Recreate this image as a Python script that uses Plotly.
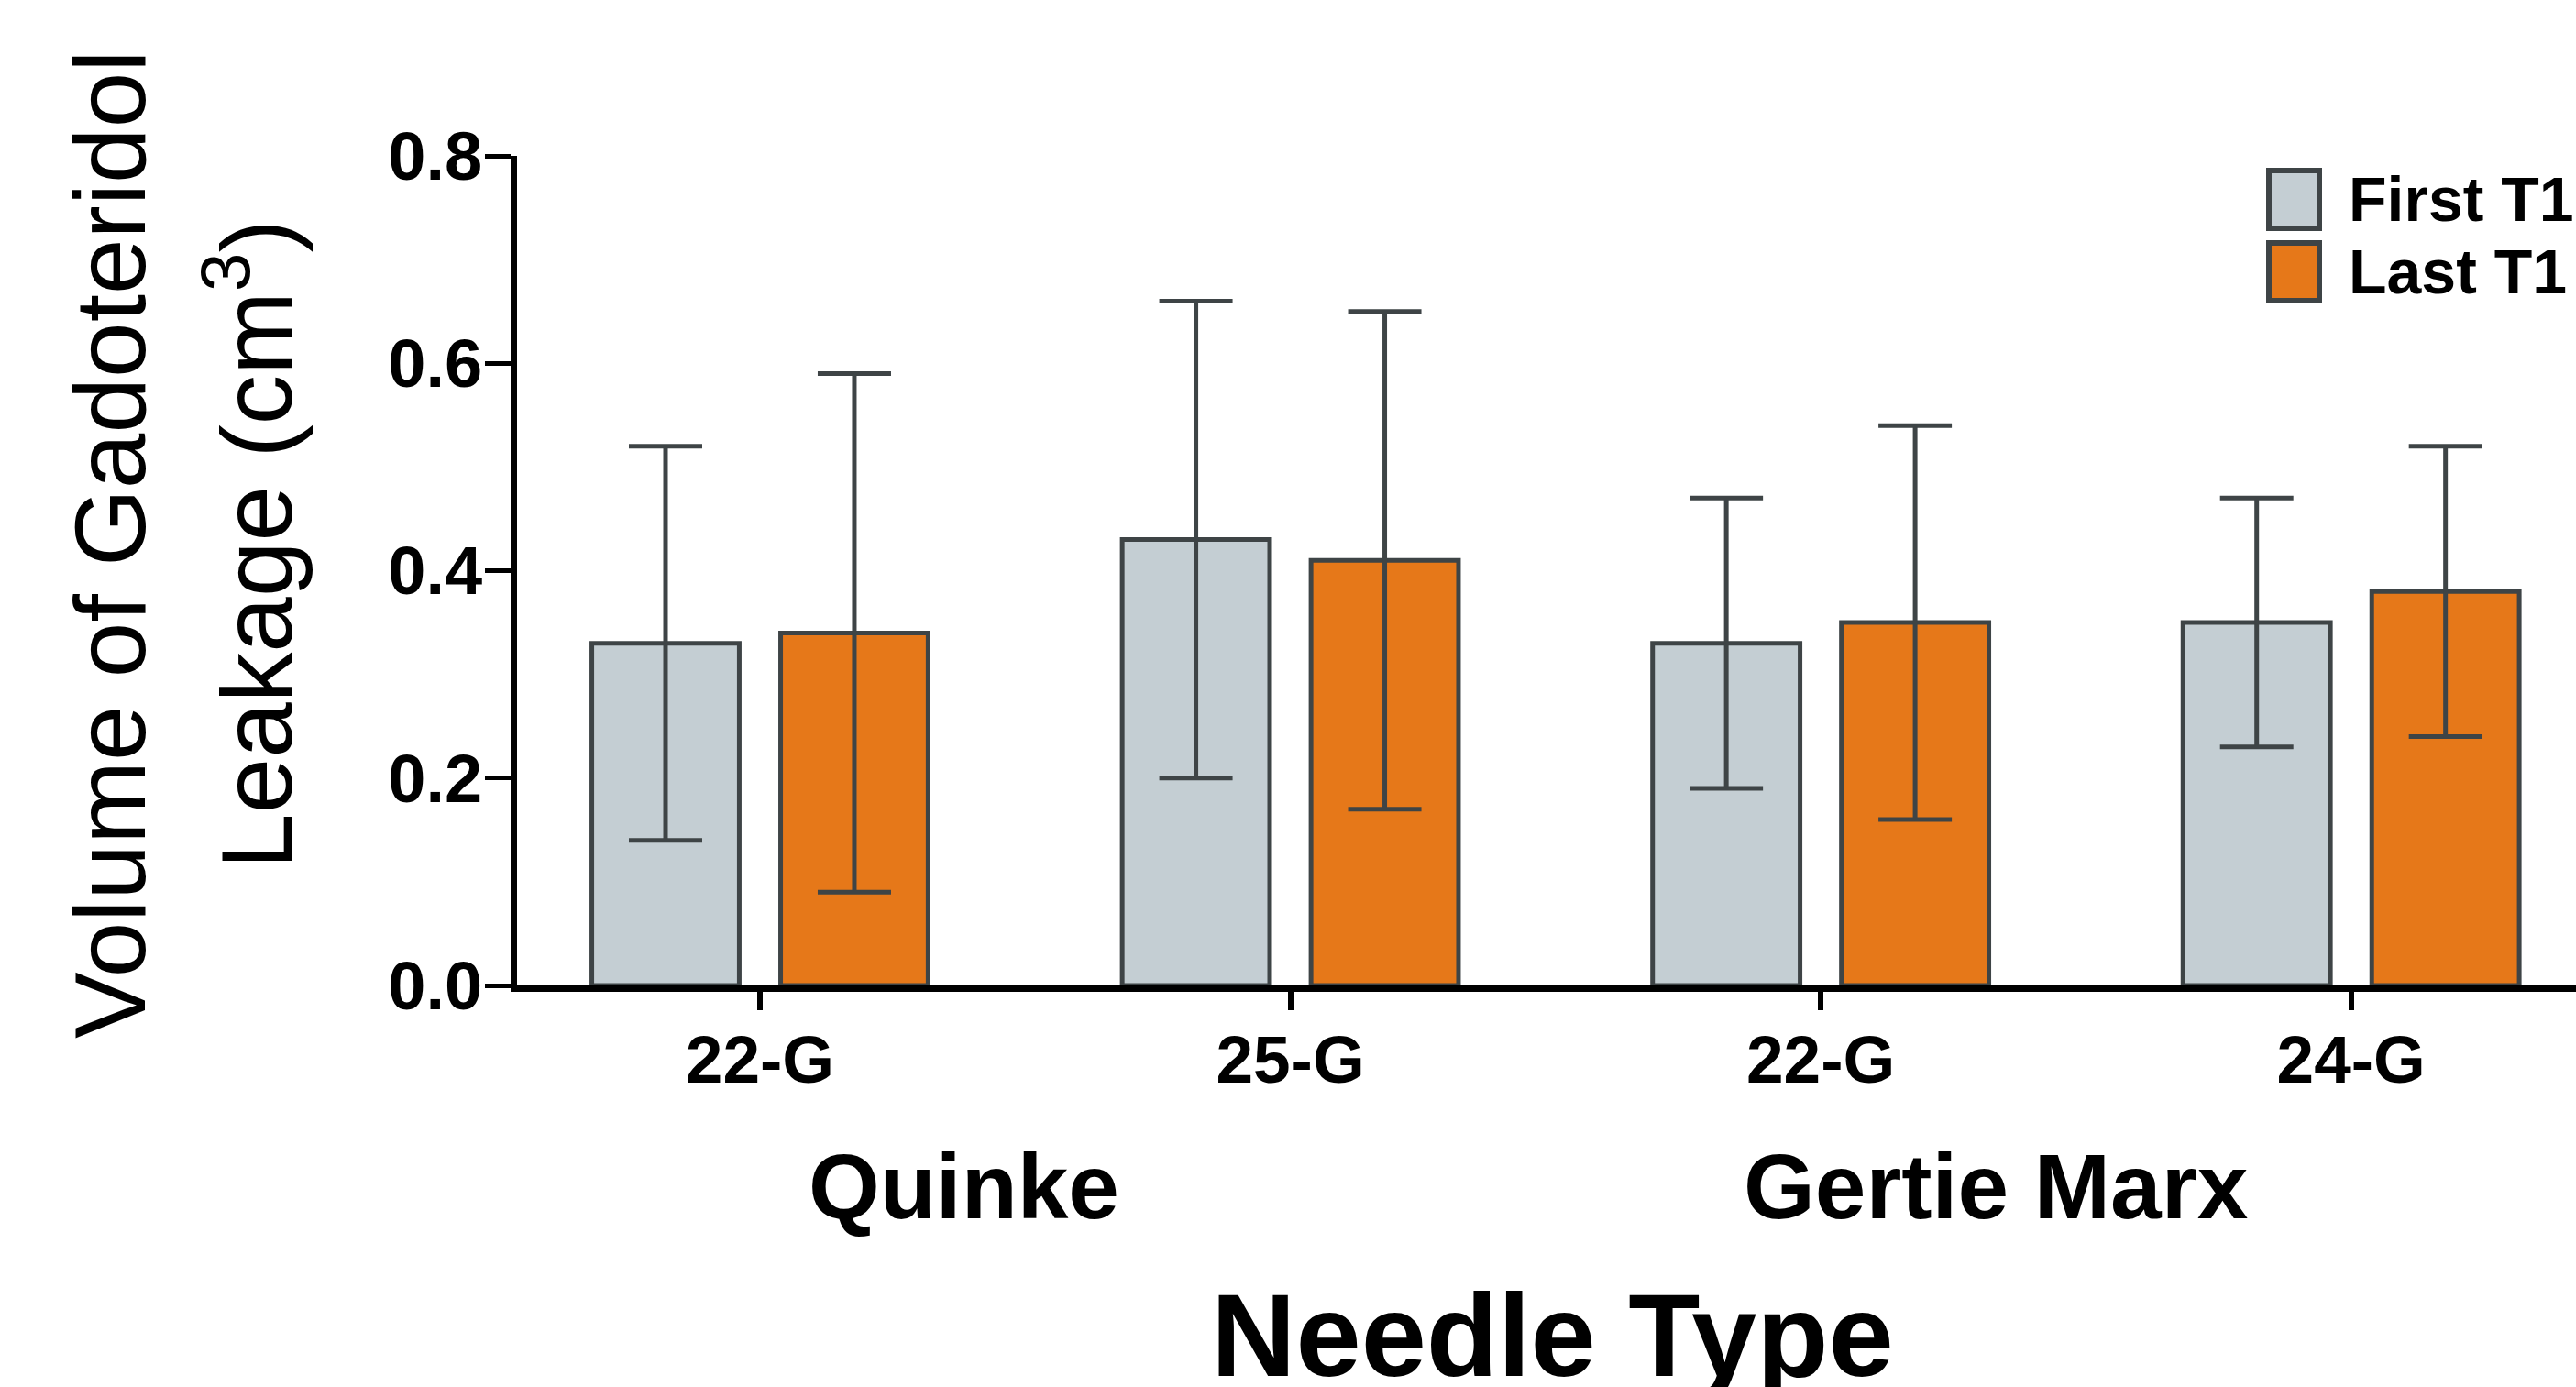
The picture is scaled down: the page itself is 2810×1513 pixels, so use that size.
import plotly.graph_objects as go

# ---- data ----
categories = ["Q22", "Q25", "G22", "G24"]
tick_labels = ["22-G", "25-G", "22-G", "24-G"]
group_labels = ["Quinke", "Gertie Marx"]
first_t1 = [0.33, 0.43, 0.33, 0.35]
first_err = [0.19, 0.23, 0.14, 0.12]
last_t1 = [0.34, 0.41, 0.35, 0.38]
last_err = [0.25, 0.24, 0.19, 0.14]
series_names = ["First T1", "Last T1"]

GRAY = "#c4ced3"
ORANGE = "#e67819"
EDGE = "#3e4446"
FONT = "Liberation Sans, Arial, sans-serif"

fig = go.Figure()
for name, vals, errs, col in [(series_names[0], first_t1, first_err, GRAY),
                              (series_names[1], last_t1, last_err, ORANGE)]:
    fig.add_trace(go.Bar(
        x=categories, y=vals, name=name,
        marker=dict(color=col, line=dict(color=EDGE, width=5)),
        error_y=dict(type="data", array=errs, visible=True,
                     color=EDGE, thickness=5, width=40),
        showlegend=False,
    ))

W, H = 2810, 1513
L, R, T, B = 564, 0, 170, 438

fig.update_layout(
    width=W, height=H,
    margin=dict(l=L, r=R, t=T, b=B, pad=0),
    paper_bgcolor="white", plot_bgcolor="white",
    barmode="group", bargap=0.288, bargroupgap=0.219,
    font=dict(family=FONT, color="black"),
)
fig.update_xaxes(
    type="category", range=[-0.458, 3.424],
    tickmode="array", tickvals=categories, ticktext=tick_labels,
    showline=True, linecolor="black", linewidth=7,
    ticks="outside", ticklen=20, tickwidth=6, tickcolor="black",
    tickfont=dict(family=FONT, size=73, color="black", weight="bold"),
    ticklabelstandoff=-9,
    showgrid=False, zeroline=False,
)
fig.update_yaxes(
    range=[0, 0.8], tickvals=[0, 0.2, 0.4, 0.6, 0.8], tickformat=".1f",
    showline=True, linecolor="black", linewidth=7,
    ticks="outside", ticklen=28, tickwidth=5, tickcolor="black",
    tickfont=dict(family=FONT, size=74, color="black", weight="bold"),
    ticklabelstandoff=-12,
    showgrid=False, zeroline=False,
)

pw = W - L - R
ph = H - T - B
def px_x(x):
    return (x - L) / pw
def px_y(y):
    return (H - B - y) / ph

ann = []
# y-axis title (two lines)
ann.append(dict(text="Volume of Gadoteridol", x=px_x(120), y=px_y(594), xref="paper", yref="paper",
                textangle=-90, showarrow=False, xanchor="center", yanchor="middle",
                font=dict(family=FONT, size=109, color="black")))
ann.append(dict(text="Leakage (cm<sup>3</sup>)", x=px_x(272), y=px_y(594), xref="paper", yref="paper",
                textangle=-90, showarrow=False, xanchor="center", yanchor="middle",
                font=dict(family=FONT, size=109, color="black")))
# group labels
ann.append(dict(text=group_labels[0], x=px_x(1051), y=px_y(1294), xref="paper", yref="paper",
                showarrow=False, xanchor="center", yanchor="middle",
                font=dict(family=FONT, size=100, color="black", weight="bold")))
ann.append(dict(text=group_labels[1], x=px_x(2177), y=px_y(1294), xref="paper", yref="paper",
                showarrow=False, xanchor="center", yanchor="middle",
                font=dict(family=FONT, size=100, color="black", weight="bold")))
# x-axis title
ann.append(dict(text="Needle Type", x=px_x(1693), y=px_y(1456), xref="paper", yref="paper",
                showarrow=False, xanchor="center", yanchor="middle",
                font=dict(family=FONT, size=128, color="black", weight="bold")))
# legend text
ann.append(dict(text=series_names[0], x=px_x(2560), y=px_y(217), xref="paper", yref="paper",
                showarrow=False, xanchor="left", yanchor="middle",
                font=dict(family=FONT, size=68, color="black", weight="bold")))
ann.append(dict(text=series_names[1], x=px_x(2560), y=px_y(296), xref="paper", yref="paper",
                showarrow=False, xanchor="left", yanchor="middle",
                font=dict(family=FONT, size=68, color="black", weight="bold")))

shapes = []
for (y0, y1, col) in [(186, 249, GRAY), (265, 328, ORANGE)]:
    shapes.append(dict(type="rect", xref="paper", yref="paper",
                       x0=px_x(2475), x1=px_x(2530), y0=px_y(y1), y1=px_y(y0),
                       fillcolor=col, line=dict(color=EDGE, width=6)))

fig.update_layout(annotations=ann, shapes=shapes)
fig.write_html("out.html", config={"displayModeBar": False},
               post_script="document.body.style.margin='0';document.body.style.overflow='hidden';")
